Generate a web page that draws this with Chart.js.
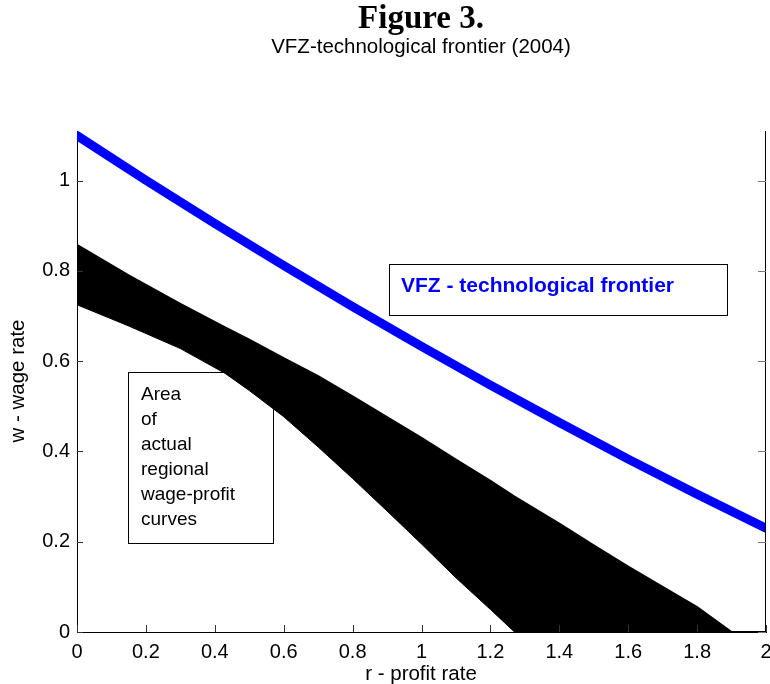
<!DOCTYPE html>
<html>
<head>
<meta charset="utf-8">
<script src="https://cdn.jsdelivr.net/npm/chart.js@4/dist/chart.umd.min.js"></script>
<style>
  html, body { margin: 0; padding: 0; background: #fff; }
  canvas { display: block; }
</style>
</head>
<body>
<canvas id="chart" width="770" height="684"></canvas>
<script>
var xTicks = [0, 0.2, 0.4, 0.6, 0.8, 1, 1.2, 1.4, 1.6, 1.8, 2];
var yTicks = [0, 0.2, 0.4, 0.6, 0.8, 1];

var frontierR = [0, 0.2, 0.4, 0.6, 0.8, 1.0, 1.2, 1.4, 1.6, 1.8, 2.0];
var frontierW = [1.1, 1.001, 0.905, 0.812, 0.721, 0.633, 0.547, 0.464, 0.383, 0.305, 0.23];

var areaR = [0, 0.15, 0.3, 0.43, 0.5, 0.6, 0.7, 0.8, 0.9, 1.0, 1.1, 1.2, 1.27, 1.4, 1.5, 1.6, 1.7, 1.8, 1.9, 2.0];
var areaUpper = [0.858, 0.79, 0.727, 0.675, 0.648, 0.607, 0.567, 0.522, 0.476, 0.43, 0.382, 0.335, 0.3, 0.24, 0.192, 0.145, 0.1, 0.055, 0, 0];
var areaLower = [0.725, 0.678, 0.628, 0.573, 0.535, 0.477, 0.41, 0.34, 0.268, 0.195, 0.12, 0.05, 0, 0, 0, 0, 0, 0, 0, 0];

var SANS = '"Liberation Sans", Arial, sans-serif';

function pts(xs, ys) {
  return xs.map(function (x, i) { return { x: x, y: ys[i] }; });
}

var decorations = {
  id: 'decorations',
  beforeDatasetsDraw: function (chart) {
    var ctx = chart.ctx;
    ctx.save();
    ctx.fillStyle = '#fff';
    ctx.strokeStyle = '#000';
    ctx.lineWidth = 1;
    ctx.fillRect(128.5, 372.5, 145, 171);
    ctx.strokeRect(128.5, 372.5, 145, 171);
    ctx.restore();
  },
  afterDraw: function (chart) {
    var ctx = chart.ctx;
    var a = chart.chartArea;
    var xs = chart.scales.x, ys = chart.scales.y;
    ctx.save();

    // right border
    ctx.strokeStyle = '#000';
    ctx.lineWidth = 1;
    ctx.beginPath();
    ctx.moveTo(Math.round(a.right) - 0.5, a.top);
    ctx.lineTo(Math.round(a.right) - 0.5, a.bottom);
    ctx.stroke();

    // inward ticks
    ctx.strokeStyle = '#333';
    ctx.beginPath();
    xTicks.forEach(function (v) {
      var px = Math.round(xs.getPixelForValue(v)) + 0.5;
      ctx.moveTo(px, a.bottom);
      ctx.lineTo(px, a.bottom - 7);
    });
    yTicks.forEach(function (v) {
      var py = Math.round(ys.getPixelForValue(v)) + 0.5;
      ctx.moveTo(a.left, py);
      ctx.lineTo(a.left + 6, py);
    });
    ctx.stroke();
    ctx.strokeStyle = '#777';
    ctx.beginPath();
    yTicks.forEach(function (v) {
      var py = Math.round(ys.getPixelForValue(v)) + 0.5;
      ctx.moveTo(a.right, py);
      ctx.lineTo(a.right - 8, py);
    });
    ctx.stroke();

    // VFZ label box
    ctx.strokeStyle = '#000';
    ctx.fillStyle = '#fff';
    ctx.fillRect(389.5, 264.5, 338, 51);
    ctx.strokeRect(389.5, 264.5, 338, 51);
    ctx.fillStyle = '#0000ff';
    ctx.font = 'bold 21px ' + SANS;
    ctx.textAlign = 'left';
    ctx.textBaseline = 'alphabetic';
    ctx.fillText('VFZ - technological frontier', 401, 292);

    // area label text
    ctx.fillStyle = '#000';
    ctx.font = '19px ' + SANS;
    var lines = ['Area', 'of', 'actual', 'regional', 'wage-profit', 'curves'];
    lines.forEach(function (t, i) {
      ctx.fillText(t, 141, 400 + i * 25);
    });

    // titles
    ctx.textAlign = 'center';
    ctx.font = 'bold 33px "Liberation Serif", "Times New Roman", serif';
    ctx.fillText('Figure 3.', 421, 28);
    ctx.font = '20.5px ' + SANS;
    ctx.fillText('VFZ-technological frontier (2004)', 421, 53);
    ctx.fillText('r - profit rate', 421, 680);

    ctx.translate(24, 381);
    ctx.rotate(-Math.PI / 2);
    ctx.fillText('w - wage rate', 0, 0);
    ctx.restore();
  }
};

new Chart(document.getElementById('chart'), {
  type: 'line',
  data: {
    datasets: [
      {
        data: pts(areaR, areaLower),
        borderColor: '#000',
        borderWidth: 1,
        pointRadius: 0,
        fill: false
      },
      {
        data: pts(areaR, areaUpper),
        borderColor: '#000',
        backgroundColor: '#000',
        borderWidth: 2,
        pointRadius: 0,
        fill: '-1'
      },
      {
        data: pts(frontierR, frontierW),
        borderColor: '#0000ff',
        borderWidth: 9,
        borderCapStyle: 'round',
        borderJoinStyle: 'round',
        pointRadius: 0,
        fill: false
      }
    ]
  },
  options: {
    responsive: false,
    animation: false,
    layout: { padding: { top: 131, right: 4, bottom: 0, left: 0 } },
    plugins: {
      legend: { display: false },
      tooltip: { enabled: false }
    },
    scales: {
      x: {
        type: 'linear',
        min: 0,
        max: 2,
        afterBuildTicks: function (s) { s.ticks = xTicks.map(function (v) { return { value: v }; }); },
        afterFit: function (s) { s.height = 52; s.paddingLeft = 0; s.paddingRight = 0; },
        grid: { display: false, drawTicks: false },
        border: { display: true, color: '#000', width: 1 },
        ticks: {
          color: '#000',
          font: { family: SANS, size: 20 },
          padding: 8,
          maxRotation: 0,
          autoSkip: false,
          callback: function (v) { return String(+v.toFixed(1)); }
        }
      },
      y: {
        type: 'linear',
        min: 0,
        max: 1.11,
        afterBuildTicks: function (s) { s.ticks = yTicks.map(function (v) { return { value: v }; }); },
        afterFit: function (s) { s.width = 77; s.paddingTop = 0; s.paddingBottom = 0; },
        grid: { display: false, drawTicks: false },
        border: { display: true, color: '#000', width: 1 },
        ticks: {
          color: '#000',
          font: { family: SANS, size: 20 },
          padding: 7,
          autoSkip: false,
          callback: function (v) { return String(+v.toFixed(1)); }
        }
      }
    }
  },
  plugins: [decorations]
});
</script>
</body>
</html>
